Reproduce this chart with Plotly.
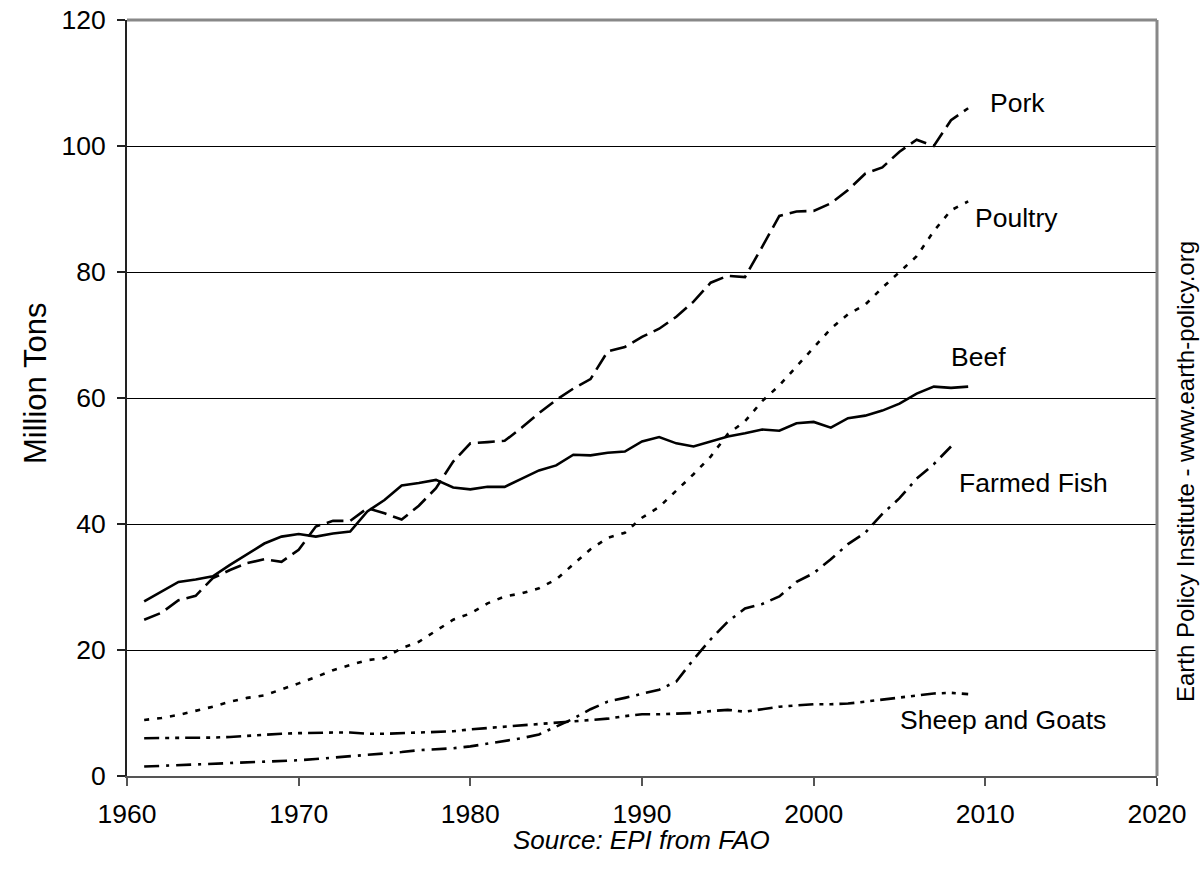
import plotly.graph_objects as go

# ---- data (million tons) ----
years = list(range(1961, 2010))
fish_years = list(range(1961, 2009))

beef = [27.7, 29.3, 30.8, 31.2, 31.7, 33.5, 35.2, 36.9, 38.0, 38.4,
        38.0, 38.5, 38.8, 42.0, 43.8, 46.1, 46.5, 47.0, 45.8, 45.5,
        45.9, 45.9, 47.2, 48.5, 49.3, 51.0, 50.9, 51.3, 51.5, 53.1,
        53.8, 52.8, 52.3, 53.1, 53.9, 54.4, 55.0, 54.8, 56.0, 56.2,
        55.3, 56.8, 57.2, 58.0, 59.1, 60.7, 61.8, 61.6, 61.8]
pork = [24.8, 25.9, 27.9, 28.6, 31.4, 32.7, 33.8, 34.4, 34.0, 35.9,
        39.6, 40.5, 40.5, 42.5, 41.7, 40.7, 42.9, 45.7, 49.9, 52.8,
        53.0, 53.2, 55.3, 57.6, 59.7, 61.5, 63.0, 67.4, 68.1, 69.7,
        71.0, 72.9, 75.3, 78.3, 79.4, 79.2, 84.0, 88.9, 89.6, 89.7,
        90.9, 93.0, 95.6, 96.6, 99.1, 101.0, 100.0, 104.1, 106.0]
poultry = [8.9, 9.2, 9.7, 10.3, 11.0, 11.8, 12.4, 12.8, 13.7, 14.7,
           15.7, 16.8, 17.6, 18.4, 18.7, 20.3, 21.3, 23.0, 24.8, 25.8,
           27.4, 28.5, 29.0, 29.8, 31.2, 33.6, 36.0, 37.8, 38.6, 41.0,
           42.7, 45.3, 47.9, 50.7, 54.3, 56.3, 59.5, 62.0, 65.0, 68.0,
           71.0, 73.3, 74.8, 77.5, 80.0, 82.5, 86.5, 89.8, 91.2]
farmed_fish = [1.5, 1.6, 1.7, 1.8, 1.9, 2.0, 2.1, 2.2, 2.4, 2.5,
               2.7, 2.9, 3.1, 3.3, 3.6, 3.8, 4.1, 4.2, 4.4, 4.7,
               5.1, 5.5, 6.0, 6.6, 7.8, 9.1, 10.6, 11.8, 12.4, 13.0,
               13.7, 15.0, 18.5, 21.7, 24.5, 26.6, 27.3, 28.5, 30.8, 32.2,
               34.4, 36.8, 38.6, 41.6, 44.1, 47.2, 49.5, 52.3]
sheep_goats = [6.0, 6.0, 6.1, 6.0, 6.1, 6.2, 6.4, 6.6, 6.7, 6.8,
               6.9, 6.9, 6.9, 6.7, 6.7, 6.8, 6.9, 7.0, 7.1, 7.4,
               7.6, 7.8, 8.0, 8.2, 8.4, 8.6, 8.8, 9.1, 9.5, 9.8,
               9.8, 9.9, 10.0, 10.3, 10.5, 10.2, 10.6, 11.0, 11.2, 11.4,
               11.4, 11.5, 11.8, 12.1, 12.4, 12.8, 13.1, 13.2, 13.0]

series_names = ["Pork", "Poultry", "Beef", "Farmed Fish", "Sheep and Goats"]
x_ticks = [1960, 1970, 1980, 1990, 2000, 2010, 2020]
y_ticks = [0, 20, 40, 60, 80, 100, 120]

FONT = "Liberation Sans, Arial, Helvetica, sans-serif"
FS = 26.5

# geometry (pixels) of the plot area; page body margin is removed below
W, H = 1203, 876
L, T = 127, 20
PW, PH = 1030, 756
R = W - L - PW
B = H - T - PH


def px_to_paper(px, py):
    """page pixel -> paper coordinates"""
    return (px - L) / PW, (T + PH - py) / PH


fig = go.Figure()

dashes = {
    "Pork": "17px,7px",
    "Poultry": "5px,8px",
    "Beef": "solid",
    "Farmed Fish": "15px,7px,3px,7px",
    "Sheep and Goats": "15px,6px,4px,6px,4px,6px",
}
data = {
    "Pork": (years, pork),
    "Poultry": (years, poultry),
    "Beef": (years, beef),
    "Farmed Fish": (fish_years, farmed_fish),
    "Sheep and Goats": (years, sheep_goats),
}
for name in series_names:
    xs, ys = data[name]
    fig.add_trace(go.Scatter(
        x=xs, y=ys, mode="lines", name=name,
        line=dict(color="black", width=2.6, dash=dashes[name]),
        hoverinfo="x+y+name",
    ))

# series labels (data coordinates)
label_pos = {
    "Pork": (2011.9, 106.8),
    "Poultry": (2011.8, 88.6),
    "Beef": (2009.6, 66.5),
    "Farmed Fish": (2012.8, 46.5),
    "Sheep and Goats": (2011.0, 8.9),
}
annotations = []
for name in series_names:
    lx, ly = label_pos[name]
    annotations.append(dict(x=lx, y=ly, xref="x", yref="y", text=name,
                            showarrow=False, xanchor="center", yanchor="middle",
                            font=dict(family=FONT, size=FS, color="black")))

ax, ay = px_to_paper(35, 384)
annotations.append(dict(x=ax, y=ay, xref="paper", yref="paper", text="Million Tons",
                        textangle=-90, showarrow=False, xanchor="center", yanchor="middle",
                        font=dict(family=FONT, size=31, color="black")))
sx, sy = px_to_paper(641, 840)
annotations.append(dict(x=sx, y=sy, xref="paper", yref="paper",
                        text="<i>Source: EPI from FAO</i>",
                        showarrow=False, xanchor="center", yanchor="middle",
                        font=dict(family=FONT, size=26, color="black")))
ex, ey = px_to_paper(1185, 472)
annotations.append(dict(x=ex, y=ey, xref="paper", yref="paper",
                        text="Earth Policy Institute - www.earth-policy.org",
                        textangle=-90, showarrow=False, xanchor="center", yanchor="middle",
                        font=dict(family=FONT, size=24, color="black")))

fig.update_layout(
    width=W, height=H,
    margin=dict(l=L, r=R, t=T, b=B, pad=0, autoexpand=False),
    paper_bgcolor="white", plot_bgcolor="white",
    showlegend=False,
    annotations=annotations,
    xaxis=dict(
        range=[1960, 2020], tickmode="array", tickvals=x_ticks,
        ticktext=[str(v) for v in x_ticks],
        showgrid=False, zeroline=False, automargin=False,
        showline=True, linecolor="#555555", linewidth=2,
        ticks="outside", ticklen=8, tickwidth=1.5, tickcolor="#555555",
        ticklabelstandoff=5, ticklabeloverflow="allow",
        tickfont=dict(family=FONT, size=FS, color="black"),
        fixedrange=True,
    ),
    yaxis=dict(
        range=[0, 120], tickmode="array", tickvals=y_ticks,
        ticktext=[str(v) for v in y_ticks],
        showgrid=True, gridcolor="black", gridwidth=1,
        zeroline=False, automargin=False,
        showline=True, linecolor="#222222", linewidth=2,
        ticks="outside", ticklen=8, tickwidth=1.5, tickcolor="#222222",
        ticklabelstandoff=6, ticklabeloverflow="allow",
        tickfont=dict(family=FONT, size=FS, color="black"),
        fixedrange=True,
    ),
    shapes=[
        dict(type="line", xref="paper", yref="paper", x0=0, x1=1, y0=1, y1=1,
             line=dict(color="#888888", width=3), layer="above"),
        dict(type="line", xref="paper", yref="paper", x0=1, x1=1, y0=0, y1=1,
             line=dict(color="#888888", width=3), layer="above"),
    ],
)

fig.write_html(
    "out.html",
    config={"displayModeBar": False},
    post_script="document.body.style.margin='0px';document.body.style.overflow='hidden';",
)
